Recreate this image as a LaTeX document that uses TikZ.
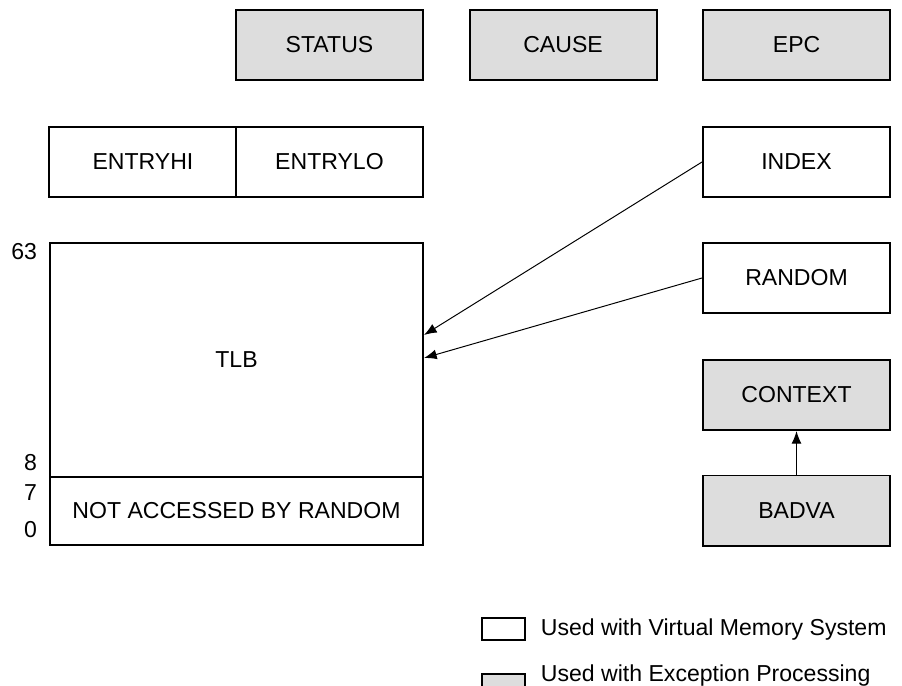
\documentclass[tikz,border=0pt]{standalone}
\usepackage{fontspec}
\setmainfont{Liberation Sans}
\usepackage{tikz}
\usetikzlibrary{calc,positioning,arrows.meta}
\definecolor{excgray}{HTML}{DDDDDD}

\begin{document}
\begin{tikzpicture}[x=0.025cm,y=-0.025cm,>={Latex[length=9pt,width=7pt]},
    node distance=5.8375cm,
    font=\fontsize{16.4}{19}\selectfont,
    reg/.style={draw, rectangle, line width=1.4pt, fill=white, inner sep=0pt,
      minimum width=4.675cm, minimum height=1.75cm},
    exc/.style={reg, fill=excgray}]
  \useasboundingbox (0,0) rectangle (902,685);

  % exception registers
  \node[exc] (status) at (329.5,45) {STATUS};
  \node[exc, right of=status] (cause) {CAUSE};
  \node[exc, right of=cause] (epc) {EPC};

  \node[reg] (entryhi) at (143,162) {ENTRYHI};
  \node[reg] (entrylo) at (329.5,162) {ENTRYLO};
  \node[reg] (index) at (796.5,162) {INDEX};
  \node[reg] (random) at (796.5,278) {RANDOM};
  \node[exc] (context) at (796.5,395) {CONTEXT};
  \node[exc] (badva) at (796.5,510.5) {BADVA};

  % TLB
  \node[reg, minimum width=9.325cm, minimum height=5.85cm] (tlb) at (236.5,360) {TLB};
  \node[reg, minimum width=9.325cm, minimum height=1.7cm] (wired) at (236.5,511) {NOT ACCESSED BY RANDOM};

  \node[anchor=east] (n63) at (42,252) {63};
  \node[anchor=east] (n8) at (42,463) {8};
  \node[anchor=east] (n7) at (42,493) {7};
  \node[anchor=east] (n0) at (42,530) {0};

  \draw[->, line width=0.7pt] (index.west) -- ($(tlb.east)+(0,-25)$);
  \draw[->, line width=0.7pt] (random.west) -- ($(tlb.east)+(0,-2)$);
  \draw[->, line width=0.7pt] (badva.north) -- (context.south);

  % legend
  \node[reg, minimum width=1.075cm, minimum height=0.55cm] (keyvm) at (503.5,629) {};
  \node[exc, minimum width=1.075cm, minimum height=0.55cm] (keyexc) at (503.5,685) {};
  \node[anchor=base west] (txtvm) at (536,635) {Used with Virtual Memory System};
  \node[anchor=base west] (txtexc) at (536,681) {Used with Exception Processing};
\end{tikzpicture}
\end{document}
